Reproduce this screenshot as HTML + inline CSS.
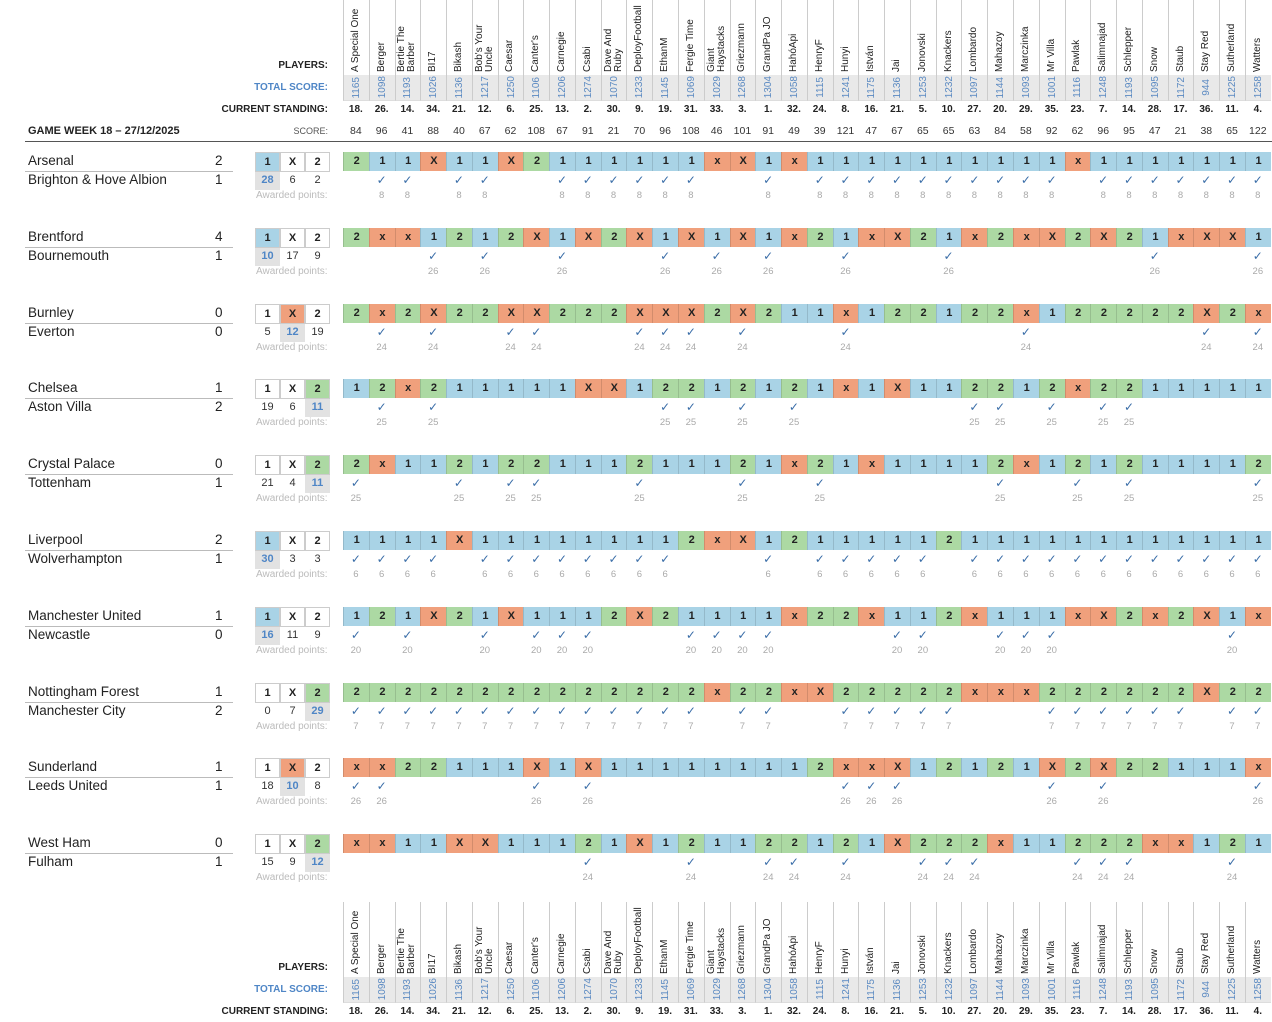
<!DOCTYPE html>
<html><head><meta charset="utf-8"><style>
body{margin:0;width:1272px;height:1022px;background:#fff;position:relative;overflow:hidden;font-family:"Liberation Sans",Arial,sans-serif;color:#222}
.a{position:absolute;white-space:nowrap}
.c{position:absolute;box-sizing:border-box;text-align:center}
.nm{position:absolute;display:flex;justify-content:center;height:72px}
.nm div{writing-mode:vertical-rl;transform:rotate(180deg);font-size:10px;line-height:10px;color:#222;text-align:left}
.tot{writing-mode:vertical-rl;transform:rotate(180deg);font-size:10px;color:#5b8ac2;line-height:25px}
</style></head><body>
<div id="r"></div>
<script>
var W=25.77,X0=343;
var names=["A Special One","Berger","Bertie The<br>Barber","BI17","Bikash","Bob's Your<br>Uncle","Caesar","Canter's","Carnegie","Csabi","Dave And<br>Ruby","DeployFootball","EthanM","Fergie Time","Giant<br>Haystacks","Griezmann","GrandPa JO","HahóApi","HenryF","Hunyi","István","Jai","Jonovski","Knackers","Lombardo","Mahazoy","Marczinka","Mr Villa","Pawlak","Salimnajad","Schlepper","Snow","Staub","Stay Red","Sutherland","Watters"];
var tot=[1165,1098,1193,1026,1136,1217,1250,1106,1206,1274,1070,1233,1145,1069,1029,1268,1304,1058,1115,1241,1175,1136,1253,1232,1097,1144,1093,1001,1116,1248,1193,1095,1172,944,1225,1258];
var st=[18,26,14,34,21,12,6,25,13,2,30,9,19,31,33,3,1,32,24,8,16,21,5,10,27,20,29,35,23,7,14,28,17,36,11,4];
var sc=[84,96,41,88,40,67,62,108,67,91,21,70,96,108,46,101,91,49,39,121,47,67,65,65,63,84,58,92,62,96,95,47,21,38,65,122];
var M=[
["Arsenal","Brighton & Hove Albion",2,1,"1",8,[28,6,2],"211X11X2111111xX1x1111111111x1111111"],
["Brentford","Bournemouth",4,1,"1",26,[10,17,9],"2xx1212X1X2X1X1X1x21xX21x2xX2X21xXX1"],
["Burnley","Everton",0,0,"X",24,[5,12,19],"2x2X22XX222XXX2X211x122122x122222X2x"],
["Chelsea","Aston Villa",1,2,"2",25,[19,6,11],"12x211111XX12212121x1X112212x2211111"],
["Crystal Palace","Tottenham",0,1,"2",25,[21,4,11],"2x112122111211121x21x11112x121211112"],
["Liverpool","Wolverhampton",2,1,"1",6,[30,3,3],"1111X111111112xX121111121111111111111"],
["Manchester United","Newcastle",1,0,"1",20,[16,11,9],"121X21X1112X21111x22x112x111xX2x2X1x"],
["Nottingham Forest","Manchester City",1,2,"2",7,[0,7,29],"22222222222222x22xX22222xxx222222X22"],
["Sunderland","Leeds United",1,1,"X",26,[18,10,8],"xx22111X1X111111112xxX12121X2X22111x"],
["West Ham","Fulham",0,1,"2",24,[15,9,12],"xx11XX11121X121122121X222x11222xx121"]
];
var col={"1":"#a9d3e6","2":"#acd9a3","x":"#f0a07c","X":"#f0a07c"};
var h="";
function cx(i){return X0+W*i}
function header(y0){
 for(var i=0;i<36;i++){
  h+='<div class="c" style="left:'+cx(i)+'px;top:'+y0+'px;width:'+W+'px;height:75px;border-left:1px solid #ccc"></div>';
  h+='<div class="nm" style="left:'+cx(i)+'px;top:'+y0+'px;width:'+W+'px"><div>'+names[i]+'</div></div>';
  h+='<div class="c" style="left:'+cx(i)+'px;top:'+(y0+75)+'px;width:'+W+'px;height:26px;background:#e9e9e9;border-left:1px solid #ccc;border-bottom:1px solid #ddd;display:flex;justify-content:center;align-items:center"><div class="tot">'+tot[i]+'</div></div>';
  h+='<div class="c" style="left:'+cx(i)+'px;top:'+(y0+104)+'px;width:'+W+'px;font-size:10px;font-weight:bold">'+st[i]+'.</div>';
 }
 h+='<div class="a" style="right:944px;top:'+(y0+60)+'px;font-size:10px;font-weight:bold">PLAYERS:</div>';
 h+='<div class="a" style="right:944px;top:'+(y0+82)+'px;font-size:10px;font-weight:bold;color:#4f86c6">TOTAL SCORE:</div>';
 h+='<div class="a" style="right:944px;top:'+(y0+104)+'px;font-size:10px;font-weight:bold">CURRENT STANDING:</div>';
}
header(0);header(902);
for(var i=0;i<36;i++)h+='<div class="c" style="left:'+cx(i)+'px;top:125px;width:'+W+'px;font-size:10.5px;color:#333">'+sc[i]+'</div>';
h+='<div class="a" style="left:28px;top:125px;font-size:11px;font-weight:bold">GAME WEEK 18 – 27/12/2025</div>';
h+='<div class="a" style="right:944px;top:126px;font-size:9px;color:#555">SCORE:</div>';
h+='<div class="a" style="left:25px;top:141px;width:1247px;height:1px;background:#555"></div>';
for(var k=0;k<10;k++){
 var m=M[k],y=152+75.8*k,p=m[7];
 h+='<div class="a" style="left:28px;top:'+(y+1)+'px;font-size:13.5px">'+m[0]+'</div>';
 h+='<div class="a" style="left:28px;top:'+(y+20)+'px;font-size:13.5px">'+m[1]+'</div>';
 h+='<div class="a" style="left:215px;top:'+(y+1)+'px;font-size:13.5px">'+m[2]+'</div>';
 h+='<div class="a" style="left:215px;top:'+(y+20)+'px;font-size:13.5px">'+m[3]+'</div>';
 h+='<div class="a" style="left:25px;top:'+(y+19)+'px;width:208px;height:1px;background:#bbb"></div>';
 var lab=["1","X","2"],ri=lab.indexOf(m[4]);
 for(var j=0;j<3;j++){
  var bg=j==ri?(j==0?"#a9d3e6":j==1?"#f0a07c":"#acd9a3"):"#fff";
  h+='<div class="c" style="left:'+(255+25*j)+'px;top:'+y+'px;width:25px;height:20px;background:'+bg+';border:1px solid #ccc;font-size:11px;font-weight:bold;line-height:19px">'+lab[j]+'</div>';
  h+='<div class="c" style="left:'+(255+25*j)+'px;top:'+(y+20)+'px;width:25px;height:18px;'+(j==ri?'background:#e2e2e2;color:#4f86c6;font-weight:bold;':'color:#333;')+'font-size:11px;line-height:17px">'+m[6][j]+'</div>';
 }
 h+='<div class="a" style="left:256px;top:'+(y+38)+'px;font-size:10px;color:#bbb">Awarded points:</div>';
 for(var i=0;i<36;i++){
  var c=p[i]||"1";
  h+='<div class="c" style="left:'+cx(i)+'px;top:'+y+'px;width:'+(W+0.5)+'px;height:19px;background:'+col[c]+';border-left:1px solid rgba(0,0,0,0.12);font-size:11px;font-weight:bold;line-height:19px">'+c+'</div>';
  if(c.toUpperCase()==m[4]){
   h+='<div class="c" style="left:'+cx(i)+'px;top:'+(y+21)+'px;width:'+W+'px;font-size:12px;color:#3b6ea8;line-height:14px">✓</div>';
   h+='<div class="c" style="left:'+cx(i)+'px;top:'+(y+38)+'px;width:'+W+'px;font-size:9.5px;color:#aaa">'+m[5]+'</div>';
  }
 }
}
document.getElementById("r").innerHTML=h;
</script>
</body></html>
